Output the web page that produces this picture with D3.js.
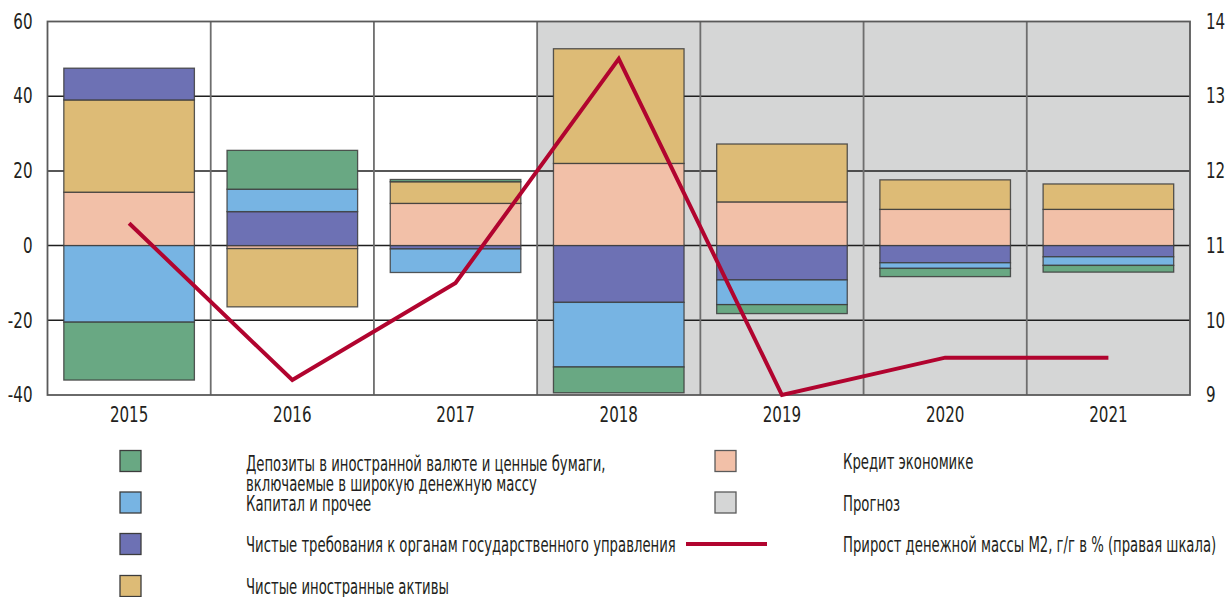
<!DOCTYPE html>
<html lang="ru">
<head>
<meta charset="utf-8">
<script src="https://cdn.jsdelivr.net/npm/d3@7"></script>
<style>
  body { margin: 0; background: #fff; }
  svg text { font-family: "Liberation Sans Narrow", "Arial Narrow", "DejaVu Sans Condensed", sans-serif; fill: #231f20; }
</style>
</head>
<body>
<div id="chart"></div>
<script>
// годы и прогнозный период
const years = ["2015", "2016", "2017", "2018", "2019", "2020", "2021"];
const forecastYears = ["2018", "2019", "2020", "2021"];

// вклады в прирост М2, п.п.
const credit = [14.3, -0.8, 11.3, 22.0, 11.7, 9.7, 9.7];
const foreignAssets = [24.7, -15.6, 5.8, 30.7, 15.5, 7.9, 6.8];
const govClaims = [8.5, 9.1, -0.9, -15.2, -9.2, -4.6, -3.0];
const capital = [-20.5, 6.0, -6.3, -17.3, -6.6, -1.5, -2.3];
const deposits = [-15.5, 10.4, 0.6, -6.9, -2.4, -2.2, -1.8];

// прирост М2, г/г в % (правая шкала)
const m2Growth = [11.3, 9.2, 10.5, 13.5, 9.0, 9.5, 9.5];

const leftTicks = [-40, -20, 0, 20, 40, 60];
const rightTicks = [9, 10, 11, 12, 13, 14];

const series = [
    {key: "credit", values: credit, color: "#f2c0a8", label: ["Кредит экономике"]},
    {key: "foreignAssets", values: foreignAssets, color: "#ddbb76", label: ["Чистые иностранные активы"]},
    {key: "govClaims", values: govClaims, color: "#6d71b4", label: ["Чистые требования к органам государственного управления"]},
    {key: "capital", values: capital, color: "#77b4e3", label: ["Капитал и прочее"]},
    {key: "deposits", values: deposits, color: "#69a883", label: ["Депозиты в иностранной валюте и ценные бумаги,", "включаемые в широкую денежную массу"]}
];

const width = 1225, height = 597;
const plot = {left: 47.5, right: 1190, top: 21.5, bottom: 395};

const svg = d3.select("#chart").append("svg")
    .attr("width", width)
    .attr("height", height);

// шрифт в оригинале узкий - поджимаем текст по ширине
function condense(sel, k) {
    sel.each(function () {
        const len = this.getComputedTextLength();
        d3.select(this)
            .attr("textLength", len * k)
            .attr("lengthAdjust", "spacingAndGlyphs");
    });
}

const x = d3.scaleBand().domain(years).range([plot.left, plot.right]).padding(0);
const y = d3.scaleLinear().domain([-40, 60]).range([plot.bottom, plot.top]);
const y2 = d3.scaleLinear().domain([9, 14]).range([plot.bottom, plot.top]);

// таблица для d3.stack
const table = years.map((yr, i) => {
    const row = {year: yr};
    series.forEach(s => { row[s.key] = s.values[i]; });
    return row;
});
const stacked = d3.stack()
    .keys(series.map(s => s.key))
    .offset(d3.stackOffsetDiverging)(table);

// прогноз - серый фон
svg.append("rect")
    .attr("x", x(forecastYears[0]))
    .attr("y", plot.top)
    .attr("width", plot.right - x(forecastYears[0]))
    .attr("height", plot.bottom - plot.top)
    .attr("fill", "#d5d6d6");

// горизонтальная сетка
svg.append("g")
    .selectAll("line")
    .data(leftTicks.filter(t => t > -40 && t < 60))
    .enter()
    .append("line")
    .attr("x1", plot.left).attr("x2", plot.right)
    .attr("y1", d => y(d)).attr("y2", d => y(d))
    .attr("stroke", "#1f1f1f")
    .attr("stroke-width", 1.5);

// вертикальные разделители
svg.append("g")
    .selectAll("line")
    .data(years.slice(1))
    .enter()
    .append("line")
    .attr("x1", d => x(d)).attr("x2", d => x(d))
    .attr("y1", plot.top).attr("y2", plot.bottom)
    .attr("stroke", "#6e6e6e")
    .attr("stroke-width", 1.8);

// столбцы
const inset = x.bandwidth() * 0.1;
svg.append("g")
    .selectAll("g")
    .data(stacked)
    .enter()
    .append("g")
    .attr("fill", (d, i) => series[i].color)
    .selectAll("rect")
    .data(d => d)
    .enter()
    .append("rect")
    .attr("x", d => x(d.data.year) + inset)
    .attr("width", x.bandwidth() - 2 * inset)
    .attr("y", d => y(Math.max(d[0], d[1])))
    .attr("height", d => Math.abs(y(d[0]) - y(d[1])))
    .attr("stroke", "#3c3c3c")
    .attr("stroke-opacity", 0.85)
    .attr("stroke-width", 1.3);

// рамка
svg.append("rect")
    .attr("x", plot.left).attr("y", plot.top)
    .attr("width", plot.right - plot.left)
    .attr("height", plot.bottom - plot.top)
    .attr("fill", "none")
    .attr("stroke", "#5a5a5a")
    .attr("stroke-width", 1.8);

// линия М2
const line = d3.line()
    .x((d, i) => x(years[i]) + x.bandwidth() / 2)
    .y(d => y2(d));
svg.append("path")
    .datum(m2Growth)
    .attr("d", line)
    .attr("fill", "none")
    .attr("stroke", "#b1042f")
    .attr("stroke-width", 4);

// оси
const leftAxis = svg.append("g")
    .attr("transform", `translate(${plot.left},0)`)
    .call(d3.axisLeft(y).tickValues(leftTicks).tickSize(0).tickPadding(15).tickFormat(d3.format("d")));
const rightAxis = svg.append("g")
    .attr("transform", `translate(${plot.right},0)`)
    .call(d3.axisRight(y2).tickValues(rightTicks).tickSize(0).tickPadding(16).tickFormat(d3.format("d")));
const bottomAxis = svg.append("g")
    .attr("transform", `translate(0,${plot.bottom})`)
    .call(d3.axisBottom(x).tickSize(0).tickPadding(12));

leftAxis.selectAll("text").text(d => d < 0 ? "-" + Math.abs(d) : d);
[leftAxis, rightAxis, bottomAxis].forEach(a => {
    a.select(".domain").remove();
    a.selectAll("text")
        .attr("font-size", 21)
        .style("font-family", null)
        .attr("fill", "#231f20")
        .call(condense, 0.8);
});

// легенда
const legendLeft = [series[4], series[3], series[2], series[1]];
const rowY = [461, 502.5, 544, 586];

const legend = svg.append("g").attr("class", "legend");
legendLeft.forEach((s, i) => {
    legend.append("rect")
        .attr("x", 120).attr("y", rowY[i] - 10.5)
        .attr("width", 21).attr("height", 21)
        .attr("fill", s.color)
        .attr("stroke", "#3c3c3c").attr("stroke-width", 1.3);
    const t = legend.append("text")
        .attr("x", 246)
        .attr("y", rowY[i] + (s.label.length > 1 ? 10 : 8))
        .attr("font-size", 21);
    s.label.forEach((ln, j) => {
        t.append("tspan").attr("x", 246).attr("dy", j === 0 ? 0 : 20).text(ln);
    });
});

const legendRight = [
    {type: "rect", color: series[0].color, label: series[0].label[0]},
    {type: "rect", color: "#d5d6d6", label: "Прогноз"},
    {type: "line", color: "#b1042f", label: "Прирост денежной массы М2, г/г в % (правая шкала)"}
];
legendRight.forEach((s, i) => {
    if (s.type === "rect") {
        legend.append("rect")
            .attr("x", 715).attr("y", rowY[i] - 10.5)
            .attr("width", 21).attr("height", 21)
            .attr("fill", s.color)
            .attr("stroke", "#5a5a5a").attr("stroke-width", 1.3);
    } else {
        legend.append("line")
            .attr("x1", 686).attr("x2", 767)
            .attr("y1", rowY[i]).attr("y2", rowY[i])
            .attr("stroke", s.color).attr("stroke-width", 4);
    }
    legend.append("text")
        .attr("x", 843)
        .attr("y", rowY[i] + 8)
        .attr("font-size", 21)
        .text(s.label);
});

legend.selectAll("tspan").call(condense, 0.7);
legend.selectAll("text").filter(function () { return !this.querySelector("tspan"); }).call(condense, 0.7);
</script>
</body>
</html>
